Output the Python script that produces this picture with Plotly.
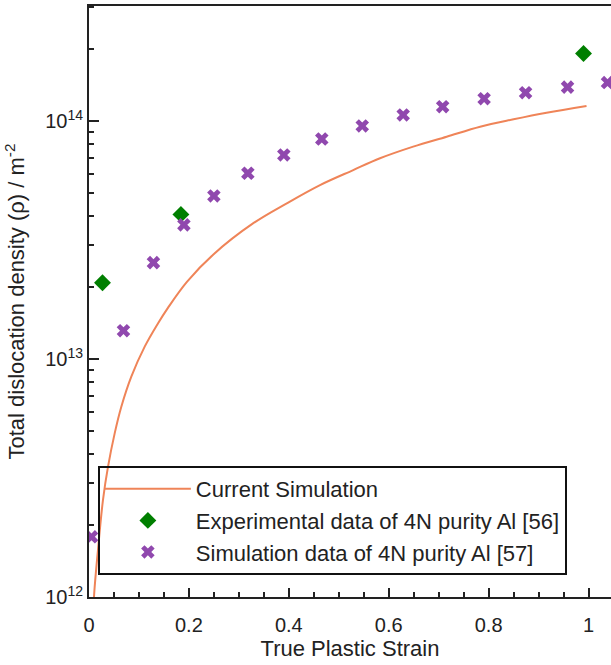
import plotly.graph_objects as go

# Current simulation curve
curve_strain = [0.009, 0.010, 0.018, 0.028, 0.038, 0.0515, 0.0647, 0.0847, 0.1115, 0.138, 0.158,
                0.196, 0.249, 0.329, 0.396, 0.4625, 0.529, 0.5826, 0.649, 0.716, 0.783, 0.850,
                0.916, 0.996]
curve_rho = [8.0e11, 1.0e12, 1.58e12, 2.56e12, 3.52e12, 4.88e12, 6.3e12, 8.43e12, 1.127e13, 1.41e13, 1.64e13,
             2.11e13, 2.75e13, 3.72e13, 4.51e13, 5.38e13, 6.22e13, 6.97e13, 7.8e13, 8.59e13, 9.46e13, 1.016e14,
             1.083e14, 1.156e14]

# Experimental data of 4N purity Al [56]
exp_strain = [0.027, 0.184, 0.990]
exp_rho = [2.09e13, 4.05e13, 1.92e14]

# Simulation data of 4N purity Al [57]
lit_strain = [0.005, 0.069, 0.129, 0.190, 0.250, 0.318, 0.390, 0.466, 0.547, 0.629,
              0.708, 0.791, 0.874, 0.958, 1.038]
lit_rho = [1.79e12, 1.315e13, 2.54e13, 3.66e13, 4.84e13, 6.03e13, 7.2e13, 8.4e13, 9.53e13, 1.06e14,
           1.148e14, 1.24e14, 1.315e14, 1.387e14, 1.45e14]

x_tickvals = [0, 0.2, 0.4, 0.6, 0.8, 1]
x_ticktext = ["0", "0.2", "0.4", "0.6", "0.8", "1"]
y_tickvals = [1e12, 1e13, 1e14]
y_ticktext = ["10<sup>12</sup>", "10<sup>13</sup>", "10<sup>14</sup>"]
y_minor = [m * 10 ** e for e in (12, 13) for m in range(2, 10)] + [2e14, 3e14]

FONT = "Arial, Liberation Sans, sans-serif"
AX = "#222222"

fig = go.Figure()
fig.add_trace(go.Scatter(x=curve_strain, y=curve_rho, mode="lines", name="Current Simulation",
                         line=dict(color="#EF8458", width=2, shape="spline", smoothing=1.0)))
fig.add_trace(go.Scatter(x=exp_strain, y=exp_rho, mode="markers",
                         name="Experimental data of 4N purity Al [56]",
                         marker=dict(symbol="diamond", size=13, color="#007F00")))
fig.add_trace(go.Scatter(x=lit_strain, y=lit_rho, mode="markers",
                         name="Simulation data of 4N purity Al [57]",
                         marker=dict(symbol="x", size=12, color="#9048AE")))

fig.update_layout(
    width=611, height=665,
    margin=dict(l=89, r=0, t=6, b=68),
    paper_bgcolor="white", plot_bgcolor="white",
    font=dict(family=FONT, size=20, color=AX),
    showlegend=True,
    legend=dict(x=0.017, y=0.2217, xanchor="left", yanchor="top",
                bgcolor="rgba(0,0,0,0)", bordercolor="#111111", borderwidth=2,
                font=dict(family=FONT, size=22, color=AX), itemwidth=86),
)
fig.update_xaxes(
    range=[0, 1.045], showgrid=False, zeroline=False, automargin=False,
    showline=True, linecolor=AX, linewidth=2, mirror=True,
    ticks="inside", ticklen=9, tickwidth=1.5, tickcolor=AX,
    tickmode="array", tickvals=x_tickvals, ticktext=x_ticktext,
    minor=dict(ticks="inside", dtick=0.05, tick0=0, ticklen=5, tickwidth=1.5, tickcolor=AX),
    tickfont=dict(size=20), ticklabelstandoff=9,
    title=dict(text="True Plastic Strain", font=dict(size=22), standoff=6),
)
fig.update_yaxes(
    type="log", range=[12, 14.483], showgrid=False, zeroline=False, automargin=False,
    showline=True, linecolor=AX, linewidth=2,
    ticks="inside", ticklen=10, tickwidth=1.5, tickcolor=AX,
    tickmode="array", tickvals=y_tickvals, ticktext=y_ticktext,
    minor=dict(ticks="inside", tickvals=y_minor, ticklen=5, tickwidth=1.5, tickcolor=AX),
    tickfont=dict(size=20),
    title=dict(text="Total dislocation density (ρ) / m<sup>-2</sup>", font=dict(size=22), standoff=14),
)

fig.write_html("out.html", config={"displayModeBar": False},
               post_script="document.body.style.margin='0px';")
